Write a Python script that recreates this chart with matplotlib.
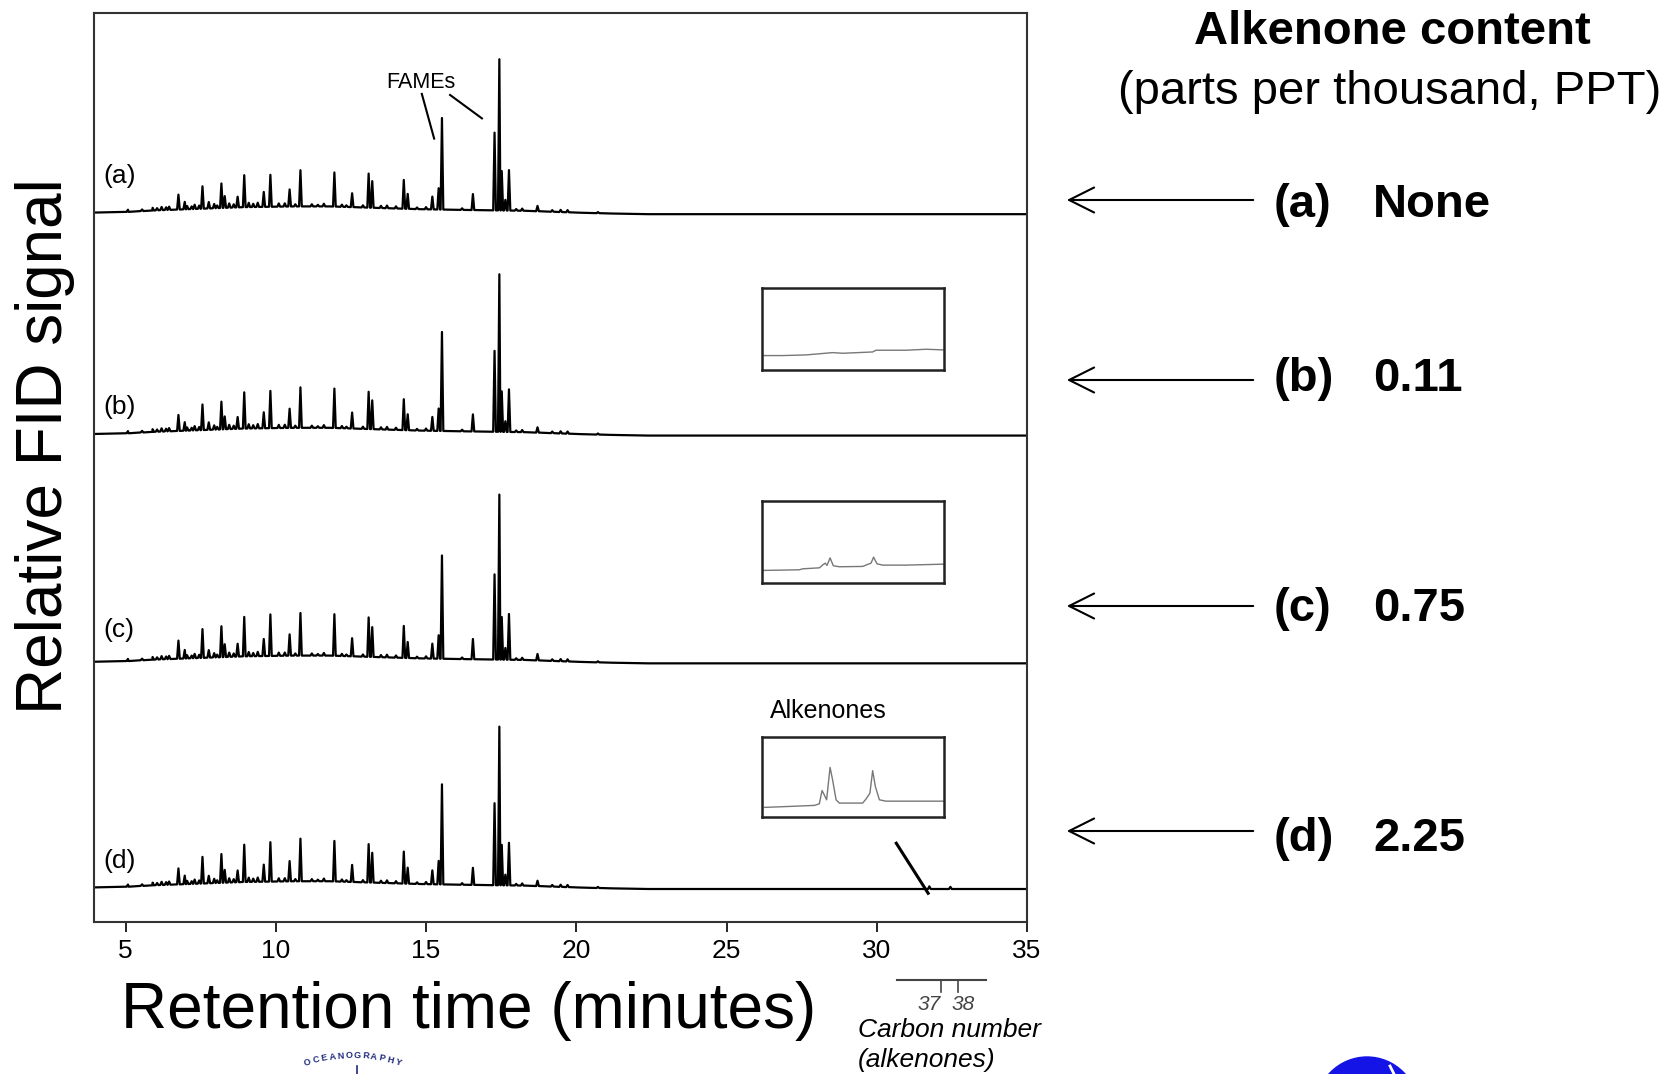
import numpy as np
import matplotlib
matplotlib.use("Agg")
import matplotlib.pyplot as plt
from matplotlib.patches import FancyArrowPatch, Circle

plt.rcParams['font.family'] = ['Liberation Sans', 'DejaVu Sans']

W, H = 1669, 1074

# retention times (min) of the main peaks
peak_times = [6.76, 6.97, 7.56, 7.77, 8.19, 8.30, 8.73, 8.95, 9.60, 9.82,
              10.46, 10.82, 11.95, 12.54, 13.09, 13.21, 14.26, 14.39, 15.21, 15.42,
              15.53, 16.56, 17.28, 17.44, 17.52, 17.64, 17.76, 18.71]
heights_a = [14, 7, 21, 6, 23, 11, 10, 30, 14, 30,
             16, 34, 32, 13, 32, 25, 27, 14, 12, 20,
             86, 15, 73, 142, 37, 10, 38, 5]
heights_b = [15, 8, 24, 7, 26, 12, 11, 34, 15, 35,
             18, 38, 37, 15, 35, 27, 29, 15, 13, 21,
             93, 16, 76, 148, 38, 10, 40, 5]
heights_c = [17, 8, 27, 7, 29, 12, 12, 37, 16, 39,
             20, 40, 39, 17, 37, 28, 30, 15, 14, 22,
             97, 19, 80, 155, 40, 11, 43, 6]
heights_d = [15, 8, 25, 7, 27, 12, 11, 35, 16, 37,
             19, 40, 38, 16, 36, 28, 30, 15, 13, 22,
             94, 16, 77, 149, 38, 10, 40, 5]

# small bumps seen in every run
minor_times = [5.08, 5.55, 5.9, 6.05, 6.2, 6.35, 6.45, 7.05, 7.2, 7.3, 7.45, 7.95, 8.05,
               8.45, 8.6, 9.1, 9.25, 9.4, 10.1, 10.3, 10.65, 11.2, 11.4, 11.6, 12.2,
               12.35, 12.9, 13.5, 13.7, 14.0, 14.7, 15.0, 16.2, 18.0, 18.2, 19.2,
               19.48, 19.71, 20.72]
minor_heights = [2, 1.5, 2.5, 2, 3, 2.5, 3, 3, 2.5, 4, 3, 4, 2.5,
                 4, 3, 4, 3, 4, 3, 3, 2, 2, 1.5, 2.5, 2,
                 1.5, 2, 2, 2.5, 2, 1.5, 2, 1.5, 1.5, 2, 1.5,
                 2, 2, 1]

# alkenone bumps on run (d)
alk_times_d = [31.75, 32.45]
alk_heights_d = [2.5, 2]

# baseline drift (hump of the unresolved matter)
base_times = [3.95, 5.1, 5.9, 7.1, 8.9, 10.6, 11.8, 13.6, 14.8, 16.0, 18.3, 20.1, 21.2, 22.4, 35.0]
base_drift = [1.5, 2.2, 3.5, 4.7, 6.6, 7.3, 7.3, 5.7, 4.7, 4.1, 3.2, 1.4, 0.6, 0.0, 0.0]

run_labels = ['(a)', '(b)', '(c)', '(d)']
contents = ['None', '0.11', '0.75', '2.25']

# zoomed alkenone windows (fraction of the little box)
inset_x_b = [0, .114, .242, .388, .443, .608, .626, .791, .901, 1.0]
inset_y_b = [.176, .176, .184, .212, .204, .220, .241, .241, .253, .245]
inset_x_c = [0, .205, .224, .315, .337, .348, .357, .374, .392, .425, .553, .580,
             .599, .613, .632, .663, .791, 1.0]
inset_y_c = [.153, .161, .173, .185, .226, .242, .214, .306, .210, .198, .202, .226,
             .242, .315, .234, .218, .218, .230]
inset_x_d = [.013, .150, .288, .315, .330, .342, .355, .374, .388, .407, .425, .553,
             .571, .593, .608, .623, .645, .681, 1.0]
inset_y_d = [.120, .132, .145, .165, .331, .277, .215, .620, .463, .215, .174, .174,
             .223, .298, .579, .380, .215, .198, .198]


def make_trace(times, heights, hw=0.045):
    xs = list(base_times)
    ys = list(base_drift)
    for t, h in zip(times, heights):
        b = np.interp(t, base_times, base_drift)
        xs += [t - hw, t, t + hw]
        ys += [b, b + h, b]
    xs = np.array(xs)
    ys = np.array(ys)
    order = np.argsort(xs, kind='stable')
    return xs[order], ys[order]


fig = plt.figure(figsize=(W / 100, H / 100), dpi=100)

ax = fig.add_axes([94 / W, 1 - 922 / H, 933 / W, 909 / H])
ax.set_xlim(3.95, 35)
ax.set_ylim(0, 854)

offsets = [665, 457, 243, 31]
label_y = [701, 484, 274, 57]
all_heights = [heights_a, heights_b, heights_c, heights_d]

for i in range(4):
    times = peak_times + minor_times
    hts = all_heights[i] + minor_heights
    if i == 3:
        times = times + alk_times_d
        hts = hts + alk_heights_d
    x, y = make_trace(times, hts)
    ax.plot(x, y + offsets[i], color='black', lw=1.6)
    ax.text(4.27, label_y[i], run_labels[i], fontsize=19, ha='left', va='center')

# FAMEs annotation
ax.text(14.82, 789, 'FAMEs', fontsize=15.5, ha='center', va='center')
ax.plot([14.86, 15.27], [778, 736], color='black', lw=1.5)
ax.plot([15.80, 16.86], [777, 755], color='black', lw=1.5)

# alkenones label and pointer
ax.text(28.38, 198, 'Alkenones', fontsize=18, ha='center', va='center')
ax.plot([30.65, 31.71], [74, 27], color='black', lw=2.2)

ax.set_xticks([5, 10, 15, 20, 25, 30, 35])
ax.set_yticks([])
ax.tick_params(axis='x', direction='out', length=7, width=1.2, labelsize=19, pad=5)
for s in ax.spines.values():
    s.set_color('#333333')
    s.set_linewidth(1.5)

# little zoom windows
inset_data = [(288, 370, inset_x_b, inset_y_b),
              (501, 583, inset_x_c, inset_y_c),
              (737, 817, inset_x_d, inset_y_d)]
for top, bot, xs, ys in inset_data:
    ia = fig.add_axes([762 / W, 1 - bot / H, 182 / W, (bot - top) / H])
    ia.plot(xs, ys, color='#777777', lw=1.0)
    ia.set_xlim(0, 1)
    ia.set_ylim(0, 1)
    ia.set_xticks([])
    ia.set_yticks([])
    for s in ia.spines.values():
        s.set_color('#222222')
        s.set_linewidth(1.8)

# overlay in pixel coordinates for the surrounding text
ov = fig.add_axes([0, 0, 1, 1])
ov.set_xlim(0, W)
ov.set_ylim(H, 0)
ov.axis('off')

ov.text(45, 446, 'Relative FID signal', fontsize=46, rotation=90, ha='center', va='center')
ov.text(469, 1011, 'Retention time (minutes)', fontsize=46, ha='center', va='center')

ov.text(1392, 32, 'Alkenone content', fontsize=34, fontweight='bold', ha='center', va='center')
ov.text(1390, 92, '(parts per thousand, PPT)', fontsize=34, ha='center', va='center')

arrow_y = [200, 380, 606, 831]
text_y = [205, 379, 609, 839]
for i in range(4):
    ov.add_patch(FancyArrowPatch((1256, arrow_y[i]), (1064, arrow_y[i]),
                                 arrowstyle='->,head_length=0.6,head_width=0.3',
                                 mutation_scale=30, lw=1.5, color='black'))
    ov.text(1274, text_y[i], run_labels[i], fontsize=34, fontweight='bold', ha='left', va='center')
    ov.text(1373, text_y[i], contents[i], fontsize=34, fontweight='bold', ha='left', va='center')

# carbon number scale
ov.plot([897, 986], [980, 980], color='#444444', lw=1.5)
ov.plot([941, 941], [980, 992], color='#444444', lw=1.2)
ov.plot([958, 958], [980, 992], color='#444444', lw=1.2)
ov.text(929, 1005, '37', fontsize=15, style='italic', color='#444444', ha='center', va='center')
ov.text(963, 1005, '38', fontsize=15, style='italic', color='#444444', ha='center', va='center')
ov.text(858, 1030, 'Carbon number', fontsize=19, style='italic', ha='left', va='center')
ov.text(858, 1060, '(alkenones)', fontsize=19, style='italic', ha='left', va='center')

# cropped logos along the bottom edge
logo = 'OCEANOGRAPHY'
cx, cy, r = 353, 1210, 150
for k, ch in enumerate(logo):
    ang = np.deg2rad(90 + (5.5 - k) * 3.1)
    ov.text(cx + r * np.cos(ang), cy - r * np.sin(ang), ch, fontsize=6.5, fontweight='bold',
            color='#1f2a7a', rotation=np.rad2deg(ang) - 90, ha='center', va='bottom',
            rotation_mode='anchor')
ov.plot([357, 357], [1066, 1074], color='#1f2a7a', lw=1.2)
ov.add_patch(Circle((1367, 1108), 51, color='#1414e6'))
ov.plot([1390, 1394], [1066, 1074], color='white', lw=2)

fig.savefig('out.png', dpi=100)
